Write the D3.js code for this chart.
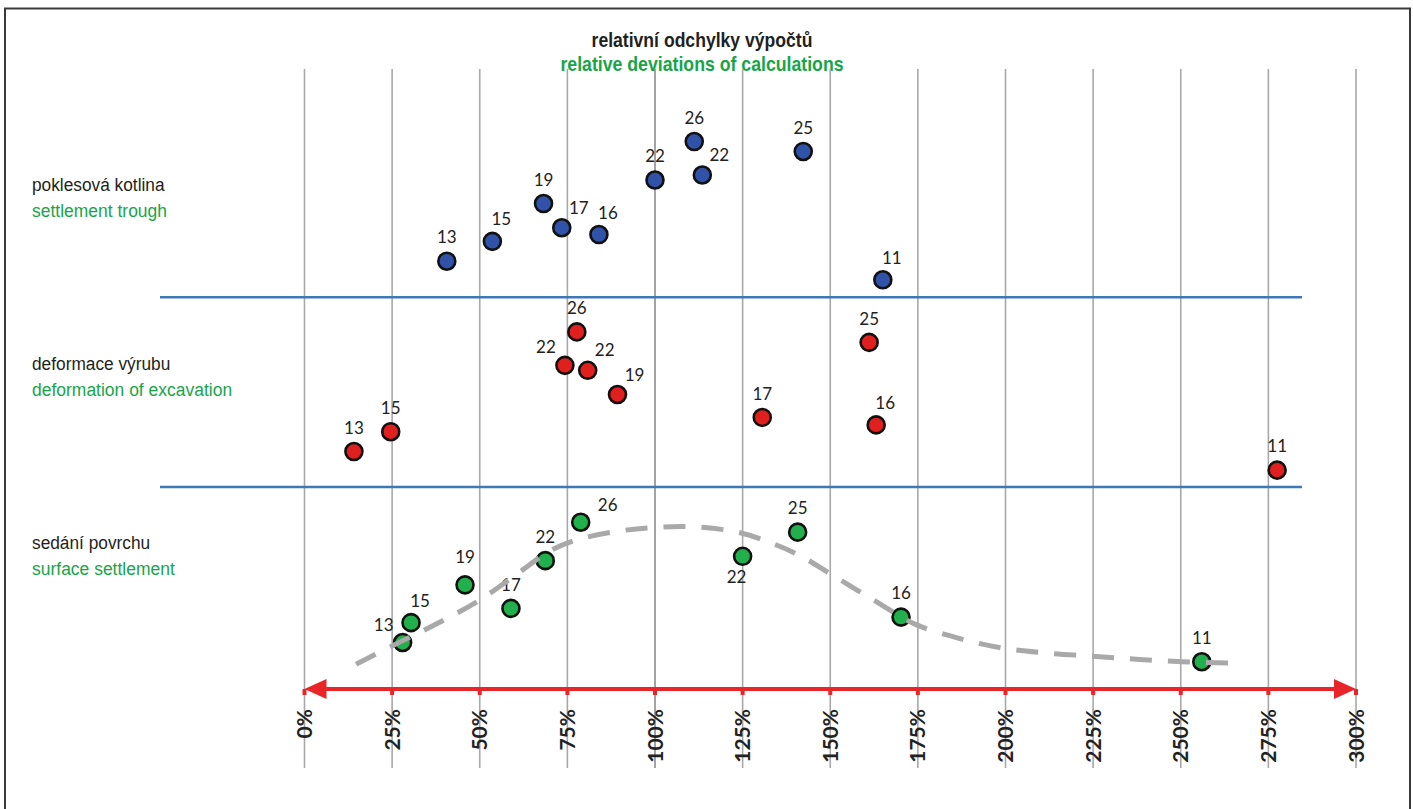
<!DOCTYPE html>
<html>
<head>
<meta charset="utf-8">
<script src="https://cdn.jsdelivr.net/npm/d3@7"></script>
<style>
  body { margin: 0; background: #fff; }
  svg { display: block; }
</style>
</head>
<body>
<div id="chart"></div>
<script>
// ---- data ----
const percentTicks = [0, 25, 50, 75, 100, 125, 150, 175, 200, 225, 250, 275, 300];

const titleCz = "relativní odchylky výpočtů";
const titleEn = "relative deviations of calculations";

const groupNamesCz = ["poklesová kotlina", "deformace výrubu", "sedání povrchu"];
const groupNamesEn = ["settlement trough", "deformation of excavation", "surface settlement"];

// vertical position is an arbitrary "level" 0..100 above the red axis
const separatorLevels = [63.2, 32.6];

const troughPct = [40.6, 53.6, 68.2, 73.4, 84.0, 100.0, 111.2, 113.5, 142.3, 165.0];
const troughLevel = [69.0, 72.2, 78.3, 74.4, 73.3, 82.1, 88.3, 82.9, 86.7, 66.0];
const troughLabels = ["13", "15", "19", "17", "16", "22", "26", "22", "25", "11"];

const excavationPct = [14.1, 24.6, 74.3, 77.7, 80.8, 89.3, 130.6, 161.1, 163.1, 277.5];
const excavationLevel = [38.3, 41.5, 52.2, 57.6, 51.4, 47.5, 43.8, 55.9, 42.6, 35.3];
const excavationLabels = ["13", "15", "22", "26", "22", "19", "17", "25", "16", "11"];

const surfacePct = [28.0, 30.4, 45.8, 58.9, 68.7, 78.8, 125.0, 140.7, 170.2, 256.0];
const surfaceLevel = [7.5, 10.7, 16.8, 13.0, 20.7, 26.9, 21.4, 25.3, 11.6, 4.4];
const surfaceLabels = ["13", "15", "19", "17", "22", "26", "22", "25", "16", "11"];

// dashed trend through the surface settlement points
const trendPct = [14.7, 27.3, 38.7, 50.1, 61.5, 70.1, 78.6, 90.0, 101.4, 112.8, 124.3, 134.3,
  141.4, 151.4, 163.1, 174.0, 186.5, 199.1, 211.6, 224.7, 237.3, 250.4, 263.5];
const trendLevel = [4.0, 7.6, 10.8, 14.4, 18.9, 22.3, 24.2, 25.5, 26.1, 26.1, 25.2, 23.3,
  21.5, 18.1, 14.1, 10.5, 8.2, 6.6, 5.8, 5.3, 4.8, 4.4, 4.2];

// label placement around each marker
const troughSides = ["t", "tr", "t", "TR", "tr", "t", "t", "TR", "t", "tr"];
const excavationSides = ["t", "t", "tl", "t", "TR", "TR", "t", "t", "tr", "t"];
const surfaceSides = ["tl", "tr", "T", "t", "t", "r", "b", "t", "t", "t"];

// ---- layout ----
const W = 1413, H = 809;
const axisY = 689;
const green = "#17a548";
const narrowFont = "'Liberation Sans Narrow', 'Arial Narrow', 'Liberation Sans', sans-serif";
const sideOffset = {
  t: [0, -24], T: [0, -28], tr: [9, -22], TR: [17, -20],
  tl: [-19, -18], r: [27, -17], b: [-6, 21]
};

const x = d3.scaleLinear().domain([0, 300]).range([304.5, 1356]);
const y = d3.scaleLinear().domain([0, 100]).range([axisY, 69]);

const svg = d3.select("#chart").append("svg")
  .attr("width", W).attr("height", H)
  .attr("viewBox", [0, 0, W, H]);

svg.append("rect").attr("width", W).attr("height", H).attr("fill", "#fff");

// outer frame
svg.append("rect")
  .attr("x", 5).attr("y", 8.5)
  .attr("width", 1405).attr("height", 820)
  .attr("fill", "none").attr("stroke", "#3a3a3a").attr("stroke-width", 2);

// title (condensed look)
const title = svg.append("g")
  .attr("font-family", narrowFont)
  .attr("font-weight", "bold")
  .attr("font-size", 20)
  .attr("text-anchor", "middle");
title.append("text")
  .attr("transform", "translate(702,47) scale(0.88,1)")
  .attr("fill", "#231f20").text(titleCz);
title.append("text")
  .attr("transform", "translate(702,71) scale(0.885,1)")
  .attr("fill", green).text(titleEn);

// vertical grid
svg.append("g")
  .selectAll("line")
  .data(percentTicks)
  .join("line")
  .attr("x1", (d) => x(d)).attr("x2", (d) => x(d))
  .attr("y1", y(100)).attr("y2", axisY + 79)
  .attr("stroke", (d) => (d === 100 ? "#8c8c8c" : "#a8a8a8"))
  .attr("stroke-width", 1.6);

// band separators
svg.append("g")
  .selectAll("line")
  .data(separatorLevels)
  .join("line")
  .attr("x1", 160).attr("x2", 1302)
  .attr("y1", (d) => y(d)).attr("y2", (d) => y(d))
  .attr("stroke", "#3f78b9")
  .attr("stroke-width", 2.5);

// group labels on the left
const groupLabelY = [191, 370, 549];
const gl = svg.append("g")
  .attr("font-family", narrowFont)
  .attr("font-size", 19);
groupNamesCz.forEach((name, i) => {
  gl.append("text")
    .attr("transform", `translate(32,${groupLabelY[i]}) scale(0.91,1)`)
    .attr("fill", "#231f20").text(name);
  gl.append("text")
    .attr("transform", `translate(32,${groupLabelY[i] + 26}) scale(0.92,1)`)
    .attr("fill", green).text(groupNamesEn[i]);
});

// red double arrow axis
const red = "#e8262a";
const axis = svg.append("g");
axis.append("line")
  .attr("x1", x(0) + 16).attr("x2", x(300) - 16)
  .attr("y1", axisY).attr("y2", axisY)
  .attr("stroke", red).attr("stroke-width", 4);
axis.selectAll("rect")
  .data(percentTicks)
  .join("rect")
  .attr("x", (d) => x(d) - 2).attr("y", axisY)
  .attr("width", 4).attr("height", 6)
  .attr("fill", red);
axis.append("path")
  .attr("d", `M${x(0)},${axisY} L${x(0) + 22},${axisY - 10} L${x(0) + 22},${axisY + 10} Z`)
  .attr("fill", red);
axis.append("path")
  .attr("d", `M${x(300)},${axisY} L${x(300) - 22},${axisY - 10} L${x(300) - 22},${axisY + 10} Z`)
  .attr("fill", red);

axis.append("g")
  .attr("font-family", "Lato, 'Open Sans', sans-serif")
  .attr("font-weight", "bold")
  .attr("font-size", 21)
  .attr("fill", "#222")
  .selectAll("text")
  .data(percentTicks)
  .join("text")
  .attr("transform", (d) => `translate(${x(d)},${axisY + 20}) rotate(-90)`)
  .attr("text-anchor", "end")
  .attr("dy", "0.36em")
  .text((d) => d + "%");

// points
const series = [
  { pct: troughPct, level: troughLevel, labels: troughLabels, sides: troughSides, fill: "#3053a9" },
  { pct: excavationPct, level: excavationLevel, labels: excavationLabels, sides: excavationSides, fill: "#e0201f" },
  { pct: surfacePct, level: surfaceLevel, labels: surfaceLabels, sides: surfaceSides, fill: "#21b04b" }
];

series.forEach((s) => {
  const pts = s.pct.map((p, i) => ({ p, v: s.level[i], label: s.labels[i], side: s.sides[i] }));
  const g = svg.append("g");
  g.selectAll("circle")
    .data(pts)
    .join("circle")
    .attr("cx", (d) => x(d.p))
    .attr("cy", (d) => y(d.v))
    .attr("r", 8.5)
    .attr("fill", s.fill)
    .attr("stroke", "#111")
    .attr("stroke-width", 2.6);
  g.selectAll("text")
    .data(pts)
    .join("text")
    .attr("x", (d) => x(d.p) + sideOffset[d.side][0])
    .attr("y", (d) => y(d.v) + sideOffset[d.side][1])
    .attr("dy", "0.36em")
    .attr("text-anchor", "middle")
    .attr("font-family", "Lato, 'Open Sans', sans-serif")
    .attr("font-size", 17)
    .attr("fill", "#222")
    .text((d) => d.label);
});

// dashed trend line on top
const trend = trendPct.map((p, i) => [p, trendLevel[i]]);
svg.append("path")
  .datum(trend)
  .attr("fill", "none")
  .attr("stroke", "#a9a9a9")
  .attr("stroke-width", 5)
  .attr("stroke-dasharray", "22,16")
  .attr("d", d3.line().x((d) => x(d[0])).y((d) => y(d[1])).curve(d3.curveCatmullRom));
</script>
</body>
</html>
